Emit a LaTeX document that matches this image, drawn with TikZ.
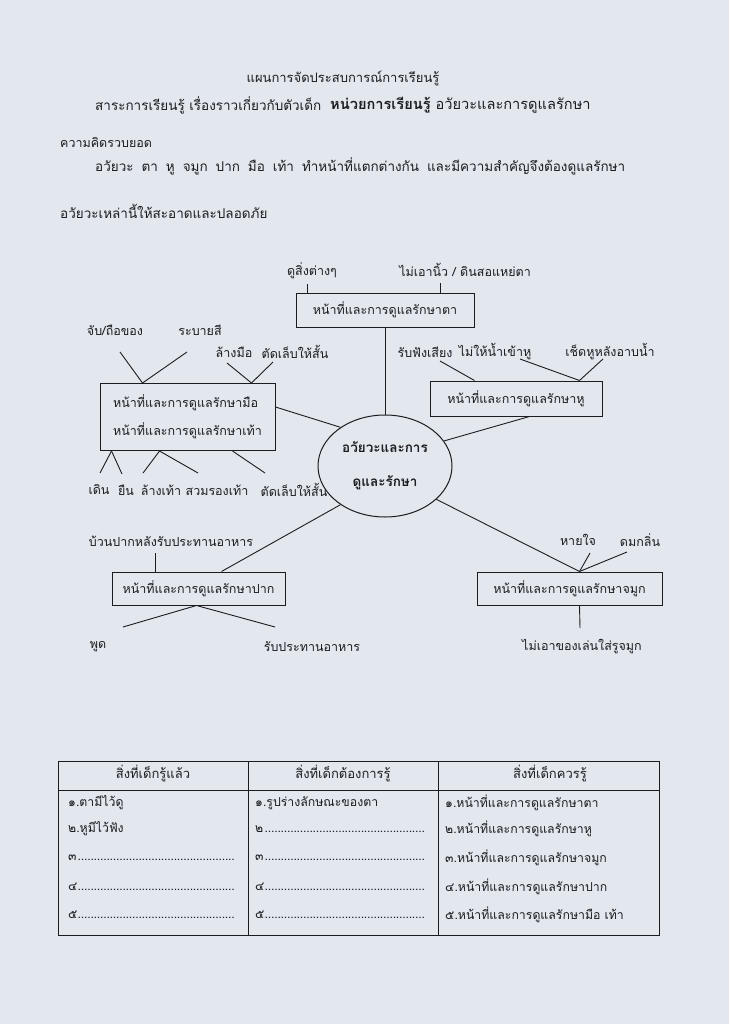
\documentclass[tikz,border=0pt]{standalone}
\usepackage{fontspec}
\setmainfont[Script=Thai]{Loma}
\usetikzlibrary{shapes.geometric,calc}
\definecolor{paper}{RGB}{227,232,239}
\definecolor{ink}{RGB}{28,28,34}
\newcommand\dotline{\leaders\hbox to 3.2pt{\hss.\hss}\hfill}
\begin{document}
\begin{tikzpicture}[x=1pt,y=-1pt,
  txt/.style={inner sep=0pt,font=\fontsize{13.5}{15}\selectfont,text=ink},
  lbl/.style={inner sep=0pt,font=\fontsize{12.5}{14}\selectfont,text=ink},
  box/.style={draw=ink,line width=1pt,inner sep=0pt,font=\fontsize{12.5}{14}\selectfont,text=ink},
  ell/.style={draw=ink,line width=1pt,ellipse,inner sep=0pt,align=center,font=\fontsize{13.5}{34}\selectfont\bfseries,text=ink},
  conn/.style={draw=ink,line width=0.9pt},
  tab/.style={draw=ink,line width=0.9pt},
  cell/.style={inner sep=0pt,anchor=west,font=\fontsize{12.3}{14}\selectfont,text=ink},
  head/.style={inner sep=0pt,font=\fontsize{13}{14}\selectfont,text=ink}]
\fill[paper] (0,0) rectangle (729,1024);
\useasboundingbox (0,0) rectangle (729,1024);

% header
\node[txt,font=\fontsize{13}{15}\selectfont] (title) at (343,78) {แผนการจัดประสบการณ์การเรียนรู้};
\node[txt,anchor=west] (subj) at (95,105) {สาระการเรียนรู้ เรื่องราวเกี่ยวกับตัวเด็ก};
\node[txt,anchor=west,font=\fontsize{14.6}{15}\selectfont] (unit) at (330,105) {{\bfseries หน่วยการเรียนรู้} อวัยวะและการดูแลรักษา};
\node[txt,anchor=west,font=\fontsize{12.5}{15}\selectfont] (conc) at (60,143) {ความคิดรวบยอด};
\node[txt,anchor=west] (l1) at (95,166) {\makebox[530pt][s]{อวัยวะ ตา หู จมูก ปาก มือ เท้า ทำหน้าที่แตกต่างกัน และมีความสำคัญจึงต้องดูแลรักษา}};
\node[txt,anchor=west] (l2) at (60,211) {อวัยวะเหล่านี้ให้สะอาดและปลอดภัย};

% core
\node[ell,minimum width=134,minimum height=102] (core) at (385,466) {อวัยวะและการ\\ดูและรักษา};

% eye
\node[box,minimum width=178,minimum height=34] (eye) at (385,310) {หน้าที่และการดูแลรักษาตา};
\node[lbl] (e1) at (312,271) {ดูสิ่งต่างๆ};
\node[lbl] (e2) at (465,270) {ไม่เอานิ้ว / ดินสอแหย่ตา};
\coordinate (e1b) at (307,284);
\coordinate (e2b) at (440,283);
\draw[conn] (e1b) -- (e1b |- eye.north);
\draw[conn] (e2b) -- (e2b |- eye.north);
\draw[conn] (eye.south) -- (core.north);

% ear
\node[box,minimum width=172,minimum height=35] (ear) at (516,398.5) {หน้าที่และการดูแลรักษาหู};
\node[lbl] (r1) at (425,352) {รับฟังเสียง};
\node[lbl] (r2) at (495,352) {ไม่ให้น้ำเข้าหู};
\node[lbl] (r3) at (610,352) {เช็ดหูหลังอาบน้ำ};
\coordinate (r1b) at (440,361);
\coordinate (r2b) at (520,359);
\coordinate (r3b) at (603,359);
\coordinate (earA) at ($(ear.north west)+(45,0)$);
\coordinate (earB) at ($(ear.north west)+(150,0)$);
\coordinate (earC) at ($(ear.south west)+(100,0)$);
\draw[conn] (r1b) -- (earA);
\draw[conn] (r2b) -- (earB);
\draw[conn] (r3b) -- (earB);
\draw[conn] (earC) -- (core.23);

% hand / foot
\node[box,minimum width=175,minimum height=67,align=left,font=\fontsize{12.5}{28}\selectfont] (hand) at (187.5,417) {หน้าที่และการดูแลรักษามือ\\หน้าที่และการดูแลรักษาเท้า};
\node[lbl] (h1) at (115,330) {จับ/ถือของ};
\node[lbl] (h2) at (200,330) {ระบายสี};
\node[lbl] (h3) at (234,352) {ล้างมือ};
\node[lbl] (h4) at (295,352) {ตัดเล็บให้สั้น};
\coordinate (h1b) at (120,352);
\coordinate (h2b) at (187,352);
\coordinate (h3b) at (227,363);
\coordinate (h4b) at (273,362);
\coordinate (handA) at ($(hand.north west)+(43,0)$);
\coordinate (handB) at ($(hand.north west)+(152,0)$);
\draw[conn] (h1b) -- (handA);
\draw[conn] (h2b) -- (handA);
\draw[conn] (h3b) -- (handB);
\draw[conn] (h4b) -- (handB);
\coordinate (handR) at ($(hand.north east)+(0,24)$);
\draw[conn] (handR) -- (core.139);
\node[lbl] (f1) at (99,490) {เดิน};
\node[lbl] (f2) at (126,490) {ยืน};
\node[lbl] (f3) at (161,490) {ล้างเท้า};
\node[lbl] (f4) at (217,490) {สวมรองเท้า};
\node[lbl] (f5) at (294,490) {ตัดเล็บให้สั้น};
\coordinate (handC) at ($(hand.south west)+(12,0)$);
\coordinate (handD) at ($(hand.south west)+(60,0)$);
\coordinate (handE) at ($(hand.south west)+(133,0)$);
\coordinate (f1b) at (100,473);
\coordinate (f2b) at (122,474);
\coordinate (f3b) at (143,473);
\coordinate (f4b) at (198,473);
\coordinate (f5b) at (265,473);
\draw[conn] (handC) -- (f1b);
\draw[conn] (handC) -- (f2b);
\draw[conn] (handD) -- (f3b);
\draw[conn] (handD) -- (f4b);
\draw[conn] (handE) -- (f5b);

% mouth
\node[box,minimum width=173,minimum height=33] (mouth) at (198.5,588.5) {หน้าที่และการดูแลรักษาปาก};
\node[lbl] (m1) at (171,541) {บ้วนปากหลังรับประทานอาหาร};
\coordinate (m1b) at (155,553);
\draw[conn] (m1b) -- (m1b |- mouth.north);
\coordinate (mouthT) at ($(mouth.north west)+(110,0)$);
\draw[conn] (core.221) -- (mouthT);
\coordinate (mouthB) at ($(mouth.south west)+(85,0)$);
\coordinate (m2b) at (123,627);
\coordinate (m3b) at (275,627);
\draw[conn] (mouthB) -- (m2b);
\draw[conn] (mouthB) -- (m3b);
\node[lbl] (m2) at (98,647) {พูด};
\node[lbl] (m3) at (312,647) {รับประทานอาหาร};

% nose
\node[box,minimum width=185,minimum height=33] (nose) at (569.5,588.5) {หน้าที่และการดูแลรักษาจมูก};
\node[lbl] (n1) at (578,540) {หายใจ};
\node[lbl] (n2) at (640,540) {ดมกลิ่น};
\coordinate (n1b) at (590,553);
\coordinate (n2b) at (627,552);
\coordinate (noseT) at ($(nose.north west)+(103,0)$);
\draw[conn] (n1b) -- (noseT);
\draw[conn] (n2b) -- (noseT);
\draw[conn] (core.327) -- (noseT);
\coordinate (noseB) at ($(nose.south west)+(103,0)$);
\coordinate (n3b) at (580,628);
\draw[conn] (noseB) -- (n3b);
\node[lbl] (n3) at (582,647) {ไม่เอาของเล่นใส่รูจมูก};

% table
\draw[tab] (58,761) rectangle (659,935);
\draw[tab] (58,790) -- (659,790);
\draw[tab] (248,761) -- (248,935);
\draw[tab] (438,761) -- (438,935);
\node[head] (th1) at (153,774) {สิ่งที่เด็กรู้แล้ว};
\node[head] (th2) at (343,774) {สิ่งที่เด็กต้องการรู้};
\node[head] (th3) at (550,774) {สิ่งที่เด็กควรรู้};

\node[cell] (a1) at (68,803) {๑.ตามีไว้ดู};
\node[cell] (a2) at (68,829) {๒.หูมีไว้ฟัง};
\node[cell] (a3) at (68,858) {\makebox[167pt][l]{๓\dotline}};
\node[cell] (a4) at (68,887) {\makebox[167pt][l]{๔\dotline}};
\node[cell] (a5) at (68,915) {\makebox[167pt][l]{๕\dotline}};

\node[cell] (b1) at (255,803) {๑.รูปร่างลักษณะของตา};
\node[cell] (b2) at (255,829) {\makebox[170pt][l]{๒\dotline}};
\node[cell] (b3) at (255,858) {\makebox[170pt][l]{๓\dotline}};
\node[cell] (b4) at (255,887) {\makebox[170pt][l]{๔\dotline}};
\node[cell] (b5) at (255,915) {\makebox[170pt][l]{๕\dotline}};

\node[cell] (c1) at (445,803) {๑.หน้าที่และการดูแลรักษาตา};
\node[cell] (c2) at (445,829) {๒.หน้าที่และการดูแลรักษาหู};
\node[cell] (c3) at (445,858) {๓.หน้าที่และการดูแลรักษาจมูก};
\node[cell] (c4) at (445,887) {๔.หน้าที่และการดูแลรักษาปาก};
\node[cell] (c5) at (445,915) {๕.หน้าที่และการดูแลรักษามือ เท้า};
\end{tikzpicture}
\end{document}
